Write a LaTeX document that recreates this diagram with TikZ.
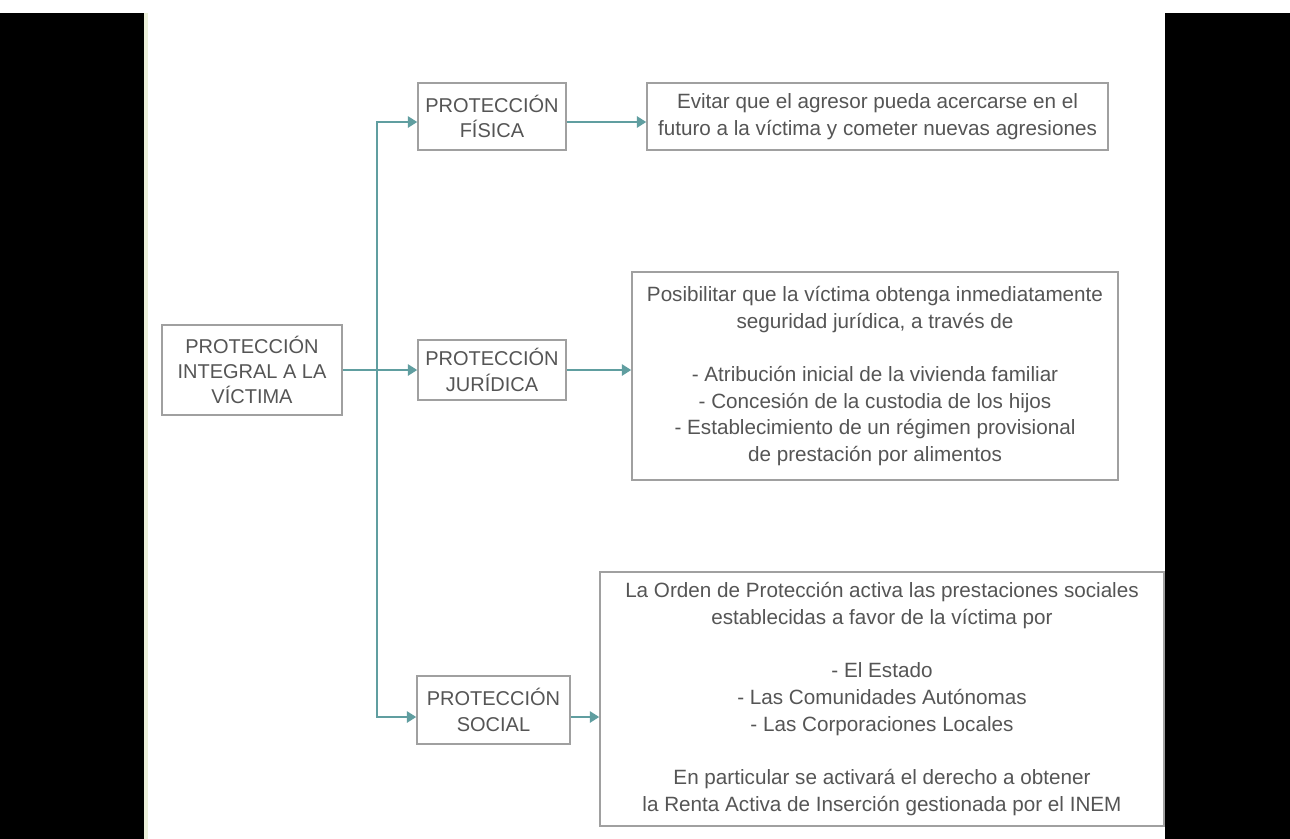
\documentclass[tikz,border=0pt]{standalone}
\usepackage{fontspec}
\setmainfont{Liberation Sans}
\usetikzlibrary{arrows.meta}
\definecolor{linkteal}{RGB}{96,158,160}
\definecolor{framegray}{RGB}{160,160,160}
\definecolor{textgray}{RGB}{85,85,85}
\definecolor{edgecream}{RGB}{236,240,218}
\tikzset{
  >={Triangle[length=7pt,width=8.5pt]},
  head/.style={
    draw=framegray, line width=1.2pt, rectangle, align=center, inner sep=0pt,
    font=\fontsize{15pt}{19pt}\selectfont, text=textgray
  },
  info/.style={
    draw=framegray, line width=1.2pt, rectangle, align=center, inner sep=0pt,
    font=\fontsize{15.5pt}{20pt}\selectfont, text=textgray
  },
  link/.style={draw=linkteal, line width=1.3pt},
}

\begin{document}
\begin{tikzpicture}[x=0.75pt,y=-0.75pt]
  \useasboundingbox (0,0) rectangle (1290,839);
  % page and side bars
  \fill[white] (0,0) rectangle (1290,839);
  \fill[black] (0,13) rectangle (144,839);
  \fill[black] (1165,13) rectangle (1290,839);
  \fill[edgecream] (144,13) rectangle (148,839);

  \node[head, minimum width=135pt, minimum height=67.5pt] (main) at (252,370) {PROTECCIÓN\\INTEGRAL A LA\\VÍCTIMA};
  \node[head, minimum width=111pt, minimum height=50.25pt] (fis) at (492,116.5) {PROTECCIÓN\\FÍSICA};
  \node[head, minimum width=111pt, minimum height=45pt] (jur) at (492,370) {PROTECCIÓN\\JURÍDICA};
  \node[head, minimum width=114.75pt, minimum height=51pt] (soc) at (493.5,710) {PROTECCIÓN\\SOCIAL};

  \node[info, minimum width=345.75pt, minimum height=50.25pt] (fisR) at (877.5,116.5) {Evitar que el agresor pueda acercarse en el\\futuro a la víctima y cometer nuevas agresiones};
  \node[info, minimum width=364.5pt, minimum height=156pt] (jurR) at (875,376) {Posibilitar que la víctima obtenga inmediatamente\\seguridad jurídica, a través de\\[20pt]- Atribución inicial de la vivienda familiar\\- Concesión de la custodia de los hijos\\- Establecimiento de un régimen provisional\\de prestación por alimentos};
  \node[info, minimum width=423pt, minimum height=190.5pt] (socR) at (882,699) {La Orden de Protección activa las prestaciones sociales\\establecidas a favor de la víctima por\\[20pt]- El Estado\\- Las Comunidades Autónomas\\- Las Corporaciones Locales\\[20pt]En particular se activará el derecho a obtener\\la Renta Activa de Inserción gestionada por el INEM};

  % trunk
  \coordinate (tf) at (377,122);
  \coordinate (ts) at (377,717);
  \draw[link, <->] (tf -| fis.west) -- (tf) -- (ts) -- (ts -| soc.west);
  \draw[link, ->] (main.east) -- (jur.west);
  \draw[link, ->] (fis.east |- tf) -- (fisR.west |- tf);
  \draw[link, ->] (jur.east) -- (jur.east -| jurR.west);
  \draw[link, ->] (ts -| soc.east) -- (ts -| socR.west);
\end{tikzpicture}
\end{document}
